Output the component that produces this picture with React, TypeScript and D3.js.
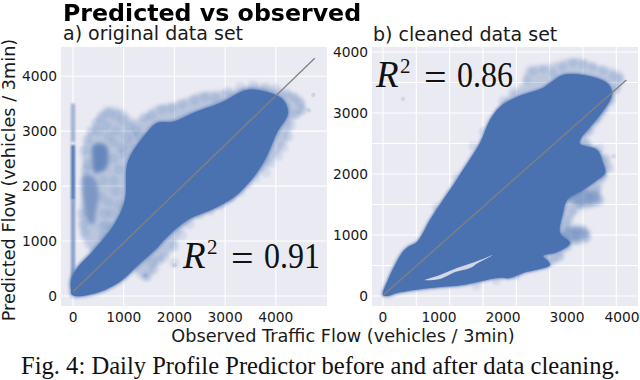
import React from "react";
import * as d3 from "d3";

type P = [number, number];

const titleText = "Predicted vs observed";
const captionText = "Fig. 4: Daily Profile Predictor before and after data cleaning.";
const panelTitles = ["a) original data set", "b) cleaned data set"];
const xAxisLabel = "Observed Traffic Flow (vehicles / 3min)";
const yAxisLabel = "Predicted Flow (vehicles / 3min)";

const leftTicks = [0, 1000, 2000, 3000, 4000];
const rightYLabels = [0, 1000, 2000, 3000, 4000];
const rightXGrid = [0, 500, 1000, 1500, 2000, 2500, 3000, 3500];
const rightYGrid = [0, 500, 1000, 1500, 2000, 2500, 3000, 3500, 4000];
const rightXLabelText = ["0", "1000", "2000", "3000", "4000"];
const rightXLabelAt = [0, 840, 1800, 2760, 3585];

const leftDense: P[] = [[-40,110],[-30,30],[40,0],[300,20],[630,110],[970,290],[1280,560],[1620,840],[1850,1070],[2250,1380],[2840,1620],[3290,1890],[3750,2420],[4020,2970],[4240,3330],[4140,3570],[3830,3710],[3430,3750],[2900,3510],[2370,3330],[1970,3170],[1660,3150],[1480,3000],[1085,2450],[1025,1750],[830,1330],[375,800],[100,530],[-40,290]];
const leftHaze: P[] = [[375,800],[138,1256],[177,1747],[197,2166],[197,2712],[375,3076],[631,3422],[966,3385],[1223,3203],[1617,3440],[2071,3531],[2504,3695],[3155,3749],[3628,3840],[4082,3749],[4476,3622],[4575,3385],[4338,3203],[4220,2839],[3885,2421],[3688,2239],[3352,2057],[3155,1747],[2504,1511],[2110,1147],[1972,837],[1716,619],[1459,291],[1223,437],[1000,800]];
const leftPatchA: P[] = [[400,2750],[640,2750],[700,2500],[640,2300],[420,2250],[380,2500]];
const leftPatchB: P[] = [[200,2200],[420,2150],[500,1900],[450,1500],[400,1300],[300,1350],[210,1700]];
const leftColumnFaint: P = [2800, 3500];
const leftColumnDark: P = [1750, 2750];
const leftColumnMid: P = [300, 1750];
const leftColumnEdges: P = [-40, 40];
const leftOutliers: P[] = [[4740,3660],[4650,3380],[1430,370],[2000,560],[2200,520]];
const leftMottle: P[] = [[220,2650],[280,2850],[350,3000],[450,3150],[560,3250],[700,3330],[850,3280],[980,3200],[1120,3080],[1250,3020],[1400,3250],[1550,3280],[1750,3400],[1950,3420],[2150,3500],[2400,3560],[2600,3620],[2800,3600],[3050,3720],[3300,3800],[3550,3840],[3800,3800],[4000,3780],[4200,3700],[4350,3620],[4480,3520],[4520,3380],[4400,3300],[4300,3100],[4250,2900],[4150,2700],[4050,2550],[3900,2420],[3800,2250],[3600,2150],[3450,2050],[3300,1900],[3100,1800],[2900,1650],[2700,1550],[2500,1480],[2300,1300],[2150,1100],[2000,900],[1800,700],[1600,480],[1450,350],[1700,640],[1550,620],[2000,600],[600,1100],[650,1300],[750,1500],[700,1700],[850,1900],[800,2100],[900,2300],[800,2500],[950,2700],[1050,2900],[850,3000],[700,2900],[600,2100],[550,1800],[620,1500],[580,1250],[750,1250],[900,1650],[1000,2600],[1100,2750],[1200,2900],[1300,2950],[300,2400],[250,2300],[500,3000],[650,3100],[800,2800],[200,1300],[170,1500],[230,1150]];
const leftLine: P[] = [[0,78],[4767,4326]];

const rightDense: P[] = [[0,15],[75,262],[285,705],[375,803],[510,885],[705,1246],[900,1573],[1035,1787],[1200,2065],[1455,2508],[1605,2885],[1755,3098],[2010,3262],[2400,3409],[2505,3491],[2700,3622],[3000,3622],[3360,3491],[3435,3344],[3405,3212],[3255,2967],[3105,2770],[2955,2557],[2955,2491],[3210,2393],[3300,2180],[3330,2016],[3210,1901],[3000,1737],[2760,1573],[2700,1360],[2655,1033],[2805,869],[2610,721],[2400,656],[2460,590],[2505,508],[2100,377],[1905,295],[1710,295],[1200,180],[705,131],[210,49],[75,0]];
const rightHaze: P[] = [[1755,3098],[1860,3262],[2100,3491],[2160,3737],[2460,3786],[2910,3901],[3210,3786],[3600,3622],[3510,3327],[3300,2934],[3060,2557],[3150,2475],[3405,2180],[3300,1868],[3255,1688],[3300,1524],[2910,1377],[2805,1131],[3105,1033],[3060,885],[2805,836],[2655,590],[2460,557],[2000,1500]];
const rightPatchA: P[] = [[2730,1640],[3000,1740],[3250,1680],[3200,1530],[2900,1500]];
const rightPatchB: P[] = [[2655,1000],[2850,1160],[3100,1050],[2950,920],[2700,930]];
const rightSliver: P[] = [[630,262],[855,344],[1110,459],[1380,557],[1650,672],[1425,541],[1305,459],[1080,393],[855,279]];
const rightOutliers: P[] = [[300,3230],[3460,2290],[1905,754],[3030,2150]];
const rightMottle: P[] = [[1800,3200],[1950,3350],[2150,3550],[2250,3680],[2400,3720],[2550,3650],[2700,3750],[2850,3820],[3000,3800],[3150,3760],[3300,3700],[3450,3600],[3550,3560],[3500,3400],[3420,3200],[3300,3050],[3200,2900],[3100,2700],[3050,2500],[3250,2420],[3350,2250],[3400,2100],[3300,1950],[3200,1750],[3100,1620],[3250,1580],[2950,1500],[2850,1380],[2800,1250],[2750,1150],[2900,1050],[3000,1100],[3050,950],[2900,900],[2780,800],[2650,640],[2550,580],[1500,2700],[1350,2450],[1100,1950],[800,1450],[1400,170],[1700,250],[2000,330]];
const rightLine: P[] = [[5,15],[3650,3540]];

const W = 640, H = 380;
const plotTop = 47, plotBottom = 306;
const lx = d3.scaleLinear().domain([-237, 5009]).range([61, 327]);
const ly = d3.scaleLinear().domain([-182, 4531]).range([plotBottom, plotTop]);
const rx = d3.scaleLinear().domain([-165, 3825]).range([372, 638]);
const ry = d3.scaleLinear().domain([-164, 4081]).range([plotBottom, plotTop]);

const BLUE = "#4C72B0";
const sans = "'DejaVu Sans', sans-serif";
const serif = "'Liberation Serif', serif";

function poly(pts: P[], x: any, y: any) {
  return d3.line<P>().x(d => x(d[0])).y(d => y(d[1])).curve(d3.curveCatmullRomClosed.alpha(0.5))(pts) as string;
}
function seg(pts: P[], x: any, y: any) {
  return d3.line<P>().x(d => x(d[0])).y(d => y(d[1]))(pts) as string;
}

function R2({ x, y, value }: { x: number; y: number; value: string }) {
  return (
    <g fontFamily={serif} fill="#111">
      <text x={x} y={y} fontSize={37} fontStyle="italic">R</text>
      <text x={x + 24} y={y - 14} fontSize={21}>2</text>
      <text x={x + 48} y={y + 4} fontSize={40}>=</text>
      <text x={x + 81} y={y} fontSize={36} textLength={56} lengthAdjust="spacingAndGlyphs">{value}</text>
    </g>
  );
}

export default function App() {
  const colRect = (r: P, op: number) => (
    <rect x={lx(leftColumnEdges[0])} width={lx(leftColumnEdges[1]) - lx(leftColumnEdges[0])} y={ly(r[1])} height={ly(r[0]) - ly(r[1])} fill={BLUE} opacity={op} filter="url(#b1)" />
  );
  return (
    <svg width={W} height={H} viewBox={`0 0 ${W} ${H}`} style={{ position: "absolute", left: 0, top: 0, background: "#fff" }}>
      <defs>
        <filter id="b06" x="-10%" y="-10%" width="120%" height="120%"><feGaussianBlur stdDeviation="0.7" /></filter>
        <filter id="b1" x="-100%" y="-10%" width="300%" height="120%"><feGaussianBlur stdDeviation="1" /></filter>
        <filter id="b2" x="-20%" y="-20%" width="140%" height="140%"><feGaussianBlur stdDeviation="2" /></filter>
        <filter id="d" x="-5%" y="-5%" width="110%" height="110%"><feGaussianBlur stdDeviation="1.3" /></filter>
        <filter id="t" x="-5%" y="-20%" width="110%" height="140%"><feGaussianBlur stdDeviation="0.3" /></filter>
      </defs>

      <g>
        <rect x={lx.range()[0]} y={plotTop} width={lx.range()[1] - lx.range()[0]} height={plotBottom - plotTop} fill="#EAEAF2" />
        {leftTicks.map(t => <line key={t} x1={lx(t)} x2={lx(t)} y1={plotTop} y2={plotBottom} stroke="#fff" strokeWidth={1.1} />)}
        {leftTicks.map(t => <line key={t} x1={lx.range()[0]} x2={lx.range()[1]} y1={ly(t)} y2={ly(t)} stroke="#fff" strokeWidth={1.1} />)}
        <path d={poly(leftHaze, lx, ly)} fill={BLUE} opacity={0.3} filter="url(#b2)" />
        <path d={poly(leftPatchA, lx, ly)} fill={BLUE} opacity={0.75} filter="url(#b2)" />
        <path d={poly(leftPatchB, lx, ly)} fill={BLUE} opacity={0.55} filter="url(#b2)" />
        <g filter="url(#d)">
          {leftMottle.map((p, i) => <circle key={i} cx={lx(p[0])} cy={ly(p[1])} r={5} fill={BLUE} opacity={0.13} />)}
        </g>
        {colRect(leftColumnFaint, 0.5)}
        {colRect(leftColumnDark, 0.95)}
        {colRect(leftColumnMid, 0.65)}
        {leftOutliers.map((p, i) => <circle key={i} cx={lx(p[0])} cy={ly(p[1])} r={2.2} fill={BLUE} opacity={0.18} />)}
        <path d={poly(leftDense, lx, ly)} fill={BLUE} stroke={BLUE} strokeWidth={5} strokeOpacity={0.3} filter="url(#b1)" />
        <path d={poly(leftDense, lx, ly)} fill={BLUE} filter="url(#b06)" />
        <path d={seg(leftLine, lx, ly)} stroke="#808080" strokeWidth={1.3} fill="none" />
        {leftTicks.map(t => <text key={t} x={lx(t)} y={322} textAnchor="middle" fontFamily={sans} fontSize={13.8} fill="#1a1a1a">{t}</text>)}
        {leftTicks.map(t => <text key={t} x={57} y={ly(t) + 5} textAnchor="end" fontFamily={sans} fontSize={13.8} fill="#1a1a1a">{t}</text>)}
      </g>

      <g>
        <rect x={rx.range()[0]} y={plotTop} width={rx.range()[1] - rx.range()[0]} height={plotBottom - plotTop} fill="#EAEAF2" />
        {rightXGrid.map(t => <line key={t} x1={rx(t)} x2={rx(t)} y1={plotTop} y2={plotBottom} stroke="#fff" strokeWidth={1.1} />)}
        {rightYGrid.map(t => <line key={t} x1={rx.range()[0]} x2={rx.range()[1]} y1={ry(t)} y2={ry(t)} stroke="#fff" strokeWidth={1.1} />)}
        <path d={poly(rightHaze, rx, ry)} fill={BLUE} opacity={0.28} filter="url(#b2)" />
        <path d={poly(rightPatchA, rx, ry)} fill={BLUE} opacity={0.45} filter="url(#b2)" />
        <path d={poly(rightPatchB, rx, ry)} fill={BLUE} opacity={0.45} filter="url(#b2)" />
        <g filter="url(#d)">
          {rightMottle.map((p, i) => <circle key={i} cx={rx(p[0])} cy={ry(p[1])} r={4.5} fill={BLUE} opacity={0.13} />)}
        </g>
        {rightOutliers.map((p, i) => <circle key={i} cx={rx(p[0])} cy={ry(p[1])} r={2.2} fill={BLUE} opacity={0.15} />)}
        <path d={poly(rightDense, rx, ry)} fill={BLUE} stroke={BLUE} strokeWidth={4} strokeOpacity={0.3} filter="url(#b1)" />
        <path d={poly(rightDense, rx, ry)} fill={BLUE} filter="url(#b06)" />
        <path d={poly(rightSliver, rx, ry)} fill="#EAEAF2" opacity={0.85} filter="url(#b06)" />
        <path d={seg(rightLine, rx, ry)} stroke="#808080" strokeWidth={1.3} fill="none" />
        {rightXLabelText.map((t, i) => <text key={t} x={rx(rightXLabelAt[i])} y={322} textAnchor="middle" fontFamily={sans} fontSize={13.8} fill="#1a1a1a">{t}</text>)}
        {rightYLabels.map(t => <text key={t} x={368} y={ry(t) + 5} textAnchor="end" fontFamily={sans} fontSize={13.8} fill="#1a1a1a">{t}</text>)}
      </g>

      <R2 x={183} y={268} value="0.91" />
      <R2 x={376} y={87} value="0.86" />

      <text x={63} y={21} fontFamily={sans} fontWeight={700} fontSize={23.7} fill="#000" filter="url(#t)">{titleText}</text>
      <text x={63} y={40} fontFamily={sans} fontSize={19} fill="#1a1a1a">{panelTitles[0]}</text>
      <text x={373} y={41} fontFamily={sans} fontSize={19} fill="#1a1a1a">{panelTitles[1]}</text>
      <text x={343} y={342} textAnchor="middle" fontFamily={sans} fontSize={17.7} fill="#1a1a1a">{xAxisLabel}</text>
      <text transform="translate(15,180) rotate(-90)" textAnchor="middle" fontFamily={sans} fontSize={17.7} fill="#1a1a1a">{yAxisLabel}</text>
      <text x={21} y={374} fontFamily={serif} fontSize={24.6} fill="#111">{captionText}</text>
    </svg>
  );
}
